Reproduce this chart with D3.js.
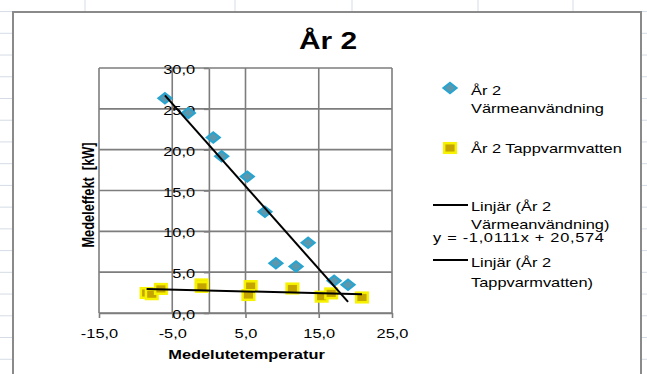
<!DOCTYPE html>
<html>
<head>
<meta charset="utf-8">
<script src="https://cdn.jsdelivr.net/npm/d3@7"></script>
<style>
  html, body { margin: 0; padding: 0; background: #fff; }
  svg { display: block; font-family: "Liberation Sans", Arial, sans-serif; }
</style>
</head>
<body>
<svg id="chart" width="647" height="374"></svg>
<script>
// Outdoor mean temperature (°C) and mean power (kW), year 2
const heatTemp = [-6.0, -2.8, 0.6, 1.75, 5.25, 7.65, 9.15, 11.9, 13.55, 17.1, 19.0];
const heatKW   = [26.3, 24.5, 21.5, 19.2, 16.7, 12.4, 6.1, 5.7, 8.6, 3.95, 3.45];
const tapTemp  = [-8.5, -7.8, -6.55, -1.0, -0.95, 5.7, 5.4, 11.4, 15.4, 16.7, 20.9];
const tapKW    = [2.45, 2.3, 2.95, 3.5, 3.2, 3.3, 2.2, 3.0, 2.0, 2.4, 1.9];

// Linear trend for heating, as stated in the legend
const heatSlope = -1.0111;
const heatIntercept = 20.574;

const xTicks = [-15, -5, 5, 15, 25];
const yTicks = [0, 5, 10, 15, 20, 25, 30];

const chartTitle = "År 2";
const xTitle = "Medelutetemperatur";
const yTitle = "Medeleffekt  [kW]";
const legendHeat = ["År 2", "Värmeanvändning"];
const legendTap = ["År 2 Tappvarmvatten"];
const legendHeatTrend = ["Linjär (År 2", "Värmeanvändning)"];
const heatEquation = "y = -1,0111x + 20,574";
const legendTapTrend = ["Linjär (År 2", "Tappvarmvatten)"];

const W = 647, H = 374;
const SX = 1.3;                 // horizontal stretch of the chart's text
const FONT = 12.6;
const svg = d3.select("#chart");

const fmt = d => d.toFixed(1).replace(".", ",");

// worksheet cell grid behind the chart object
const sheet = svg.append("g").attr("stroke", "#d5dce6").attr("stroke-width", 1);
[85, 235, 352, 478, 573].forEach(cx =>
  sheet.append("line").attr("x1", cx).attr("x2", cx).attr("y1", 0).attr("y2", 12));
d3.range(-1, 16).map(k => 33.3 + 21.73 * k).forEach(ry => {
  sheet.append("line").attr("x1", 0).attr("x2", 13).attr("y1", ry).attr("y2", ry);
  sheet.append("line").attr("x1", 641).attr("x2", W).attr("y1", ry).attr("y2", ry);
});

// chart object frame
svg.append("rect")
  .attr("x", 13).attr("y", 12).attr("width", 628).attr("height", 420)
  .attr("fill", "#fff").attr("stroke", "#8a8a8a").attr("stroke-width", 2);

const x = d3.scaleLinear().domain([-15, 25]).range([99, 392]);
const y = d3.scaleLinear().domain([0, 30]).range([313, 68]);

function stretchedText(g, tx, ty, str, size, opts = {}) {
  const t = g.append("text")
    .attr("transform", `translate(${tx},${ty}) scale(${SX},1)`)
    .attr("font-size", size)
    .attr("font-weight", opts.bold ? "bold" : null)
    .attr("text-anchor", opts.anchor || "start")
    .attr("fill", "#000")
    .text(str);
  if (opts.length) t.attr("textLength", opts.length / SX).attr("lengthAdjust", "spacing");
  return t;
}

// gridlines
const grid = svg.append("g").attr("stroke", "#7d7d7d").attr("stroke-width", 1.6);
xTicks.forEach(v => grid.append("line")
  .attr("x1", x(v)).attr("x2", x(v)).attr("y1", y(0)).attr("y2", y(30)));
yTicks.forEach(v => grid.append("line")
  .attr("x1", x(-15)).attr("x2", x(25)).attr("y1", y(v)).attr("y2", y(v)));

// x axis on y = 0
const gx = svg.append("g")
  .attr("transform", `translate(0,${y(0)})`)
  .call(d3.axisBottom(x).tickValues(xTicks).tickSize(5).tickSizeOuter(0).tickFormat(fmt));
gx.selectAll("text")
  .attr("font-size", FONT).attr("font-family", null)
  .attr("y", 16).attr("dy", "0.71em")
  .attr("transform", `scale(${SX},1)`).attr("fill", "#000");

// y axis crossing at x = 0
const gy = svg.append("g")
  .attr("transform", `translate(${x(0)},0)`)
  .call(d3.axisLeft(y).tickValues(yTicks).tickSize(5).tickSizeOuter(0).tickFormat(fmt));
gy.selectAll("text")
  .attr("font-size", FONT).attr("font-family", null)
  .attr("x", -13.8 / SX).attr("dy", "0.44em")
  .attr("transform", `scale(${SX},1)`).attr("fill", "#000");

[gx, gy].forEach(g => {
  g.select(".domain").attr("stroke", "#7d7d7d").attr("stroke-width", 1.6);
  g.selectAll(".tick line").attr("stroke", "#7d7d7d").attr("stroke-width", 1.6);
});

// markers
const diamond = (cx, cy) =>
  `M${cx},${cy - 5.2}L${cx + 6.6},${cy}L${cx},${cy + 5.2}L${cx - 6.6},${cy}Z`;
const heatStyle = s => s.attr("fill", "#5b98ae").attr("stroke", "#27a4d0").attr("stroke-width", 2);
const tapStyle = s => s.attr("fill", "#c4a400").attr("stroke", "#f7f200").attr("stroke-width", 2.5);

const heatPts = heatTemp.map((t, i) => [t, heatKW[i]]);
const tapPts = tapTemp.map((t, i) => [t, tapKW[i]]);

svg.append("g").selectAll("path").data(heatPts).join("path")
  .attr("d", d => diamond(x(d[0]), y(d[1])))
  .call(heatStyle);

svg.append("g").selectAll("rect").data(tapPts).join("rect")
  .attr("x", d => x(d[0]) - 5.8).attr("y", d => y(d[1]) - 4.8)
  .attr("width", 11.6).attr("height", 9.6)
  .call(tapStyle);

// trend lines
const heatExt = d3.extent(heatTemp);
const line = d3.line().x(d => x(d[0])).y(d => y(d[1]));
svg.append("path")
  .datum(heatExt.map(t => [t, heatSlope * t + heatIntercept]))
  .attr("d", line).attr("fill", "none").attr("stroke", "#000").attr("stroke-width", 2);

// least squares fit for hot tap water
const mx = d3.mean(tapTemp), my = d3.mean(tapKW);
const tapSlope = d3.sum(tapTemp, (t, i) => (t - mx) * (tapKW[i] - my)) /
                 d3.sum(tapTemp, t => (t - mx) * (t - mx));
const tapIntercept = my - tapSlope * mx;
svg.append("path")
  .datum(d3.extent(tapTemp).map(t => [t, tapSlope * t + tapIntercept]))
  .attr("d", line).attr("fill", "none").attr("stroke", "#000").attr("stroke-width", 2);

// titles
stretchedText(svg, 328, 49, chartTitle, 23, { bold: true, anchor: "middle" });
stretchedText(svg, 246.5, 359, xTitle, FONT, { bold: true, anchor: "middle" });
svg.append("text")
  .attr("transform", `translate(93.5,195) scale(${SX},1) rotate(-90)`)
  .attr("font-size", 12.8).attr("font-weight", "bold")
  .attr("text-anchor", "middle").attr("xml:space", "preserve")
  .style("white-space", "pre")
  .text(yTitle);

// legend
const lg = svg.append("g");
lg.append("path").attr("d", diamond(450, 88)).call(heatStyle);
legendHeat.forEach((s, i) => stretchedText(lg, 471, 95 + 18 * i, s, FONT));
lg.append("rect").attr("x", 444.2).attr("y", 143.2).attr("width", 11.6).attr("height", 9.6).call(tapStyle);
legendTap.forEach((s, i) => stretchedText(lg, 471, 153 + 18 * i, s, FONT));

lg.append("line").attr("x1", 433).attr("x2", 468).attr("y1", 205).attr("y2", 205)
  .attr("stroke", "#000").attr("stroke-width", 2);
legendHeatTrend.forEach((s, i) => stretchedText(lg, 471, 211 + 17.5 * i, s, FONT));
stretchedText(lg, 433, 241.5, heatEquation, FONT, { length: 171 });

lg.append("line").attr("x1", 433).attr("x2", 468).attr("y1", 260).attr("y2", 260)
  .attr("stroke", "#000").attr("stroke-width", 2);
legendTapTrend.forEach((s, i) => stretchedText(lg, 471, 267 + 20 * i, s, FONT));
</script>
</body>
</html>
